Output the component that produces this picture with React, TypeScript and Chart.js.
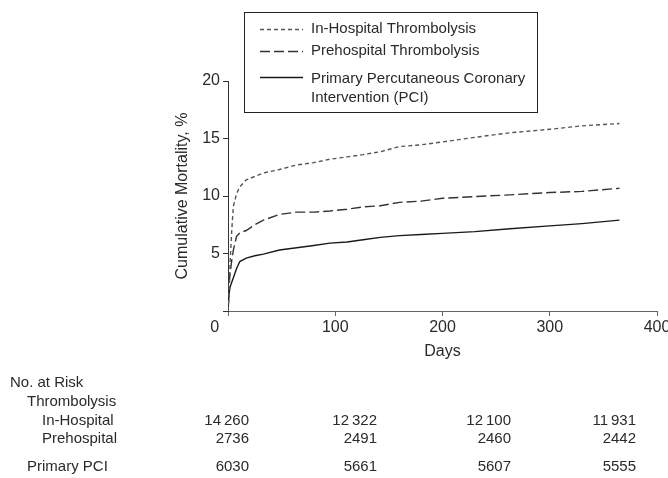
import React, { useEffect, useRef } from 'react';
import { Chart, registerables } from 'chart.js';

Chart.register(...registerables);

// ---- Data ----
const days = [0, 1, 2, 3.5, 5, 8, 11, 17, 25, 33, 48, 64, 80, 95, 111, 126, 142, 160, 180, 200, 230, 263, 300, 330, 365];
const inHospital = [0, 1.5, 4.3, 7.0, 9.1, 10.2, 10.8, 11.4, 11.7, 12.0, 12.3, 12.7, 12.9, 13.2, 13.4, 13.6, 13.85, 14.3, 14.45, 14.7, 15.1, 15.5, 15.8, 16.1, 16.3];
const prehospital = [0, 2.4, 3.3, 4.4, 5.3, 6.5, 6.8, 7.0, 7.5, 7.9, 8.4, 8.6, 8.6, 8.7, 8.85, 9.05, 9.15, 9.45, 9.55, 9.8, 9.95, 10.1, 10.3, 10.4, 10.67];
const primaryPCI = [0, 1.5, 2.1, 2.5, 2.9, 3.7, 4.3, 4.6, 4.8, 4.95, 5.3, 5.5, 5.7, 5.9, 6.0, 6.2, 6.4, 6.55, 6.65, 6.75, 6.9, 7.15, 7.4, 7.6, 7.9];

const seriesLabels = ['In-Hospital Thrombolysis', 'Prehospital Thrombolysis', 'Primary Percutaneous Coronary Intervention (PCI)'];
const legendLines = [['In-Hospital Thrombolysis'], ['Prehospital Thrombolysis'], ['Primary Percutaneous Coronary', 'Intervention (PCI)']];

const xTicks = [0, 100, 200, 300, 400];
const yTicks = [0, 5, 10, 15, 20];

const riskHeader = ['No. at Risk', 'Thrombolysis'];
const riskRowLabels = ['In-Hospital', 'Prehospital', 'Primary PCI'];
const riskInHospital = [14260, 12322, 12100, 11931];
const riskPrehospital = [2736, 2491, 2460, 2442];
const riskPCI = [6030, 5661, 5607, 5555];

// ---- Layout / style constants ----
const W = 668;
const H = 478;
const FONT = "'Liberation Sans', Arial, Helvetica, sans-serif";
const TEXT = '#2a2a2a';

const fmt = (n: number) =>
  n >= 10000 ? `${Math.floor(n / 1000)}\u2009${String(n % 1000).padStart(3, '0')}` : String(n);

const extrasPlugin = {
  id: 'extras',
  afterDraw(chart: any) {
    const ctx = chart.ctx as CanvasRenderingContext2D;
    ctx.save();
    // Legend box
    ctx.strokeStyle = '#222';
    ctx.lineWidth = 1;
    ctx.setLineDash([]);
    ctx.strokeRect(244.5, 12.5, 293, 100);
    const rowsY = [[29], [51], [79, 98]];
    const lineY = [29, 51, 77];
    ctx.font = `15px ${FONT}`;
    ctx.textBaseline = 'middle';
    ctx.textAlign = 'left';
    chart.data.datasets.forEach((ds: any, i: number) => {
      ctx.strokeStyle = ds.borderColor;
      ctx.lineWidth = ds.borderWidth;
      ctx.setLineDash(ds.borderDash || []);
      ctx.beginPath();
      ctx.moveTo(260, lineY[i] + 0.5);
      ctx.lineTo(303, lineY[i] + 0.5);
      ctx.stroke();
      ctx.setLineDash([]);
      ctx.fillStyle = TEXT;
      legendLines[i].forEach((t, k) => ctx.fillText(t, 311, rowsY[i][k]));
    });

    // Number at risk table
    ctx.font = `15px ${FONT}`;
    ctx.fillStyle = TEXT;
    ctx.textAlign = 'left';
    ctx.fillText(riskHeader[0], 10, 383);
    ctx.fillText(riskHeader[1], 27, 402);
    const rowY = [421, 439, 467];
    const rowX = [42, 42, 27];
    const rowsData = [riskInHospital, riskPrehospital, riskPCI];
    const colRight = [249, 377, 511, 636];
    riskRowLabels.forEach((lab, r) => {
      ctx.textAlign = 'left';
      ctx.fillText(lab, rowX[r], rowY[r]);
      ctx.textAlign = 'right';
      rowsData[r].forEach((v, c) => ctx.fillText(fmt(v), colRight[c], rowY[r]));
    });
    ctx.restore();
  },
};

export default function App() {
  const ref = useRef<HTMLCanvasElement | null>(null);
  useEffect(() => {
    if (!ref.current) return;
    const mk = (arr: number[]) => days.map((d, i) => ({ x: d, y: arr[i] }));
    const chart = new Chart(ref.current, {
      type: 'line',
      data: {
        datasets: [
          { label: seriesLabels[0], data: mk(inHospital), borderColor: '#555', borderWidth: 1.4, borderDash: [4, 3], pointRadius: 0, tension: 0, fill: false },
          { label: seriesLabels[1], data: mk(prehospital), borderColor: '#333', borderWidth: 1.4, borderDash: [10, 4], pointRadius: 0, tension: 0, fill: false },
          { label: seriesLabels[2], data: mk(primaryPCI), borderColor: '#1a1a1a', borderWidth: 1.4, pointRadius: 0, tension: 0, fill: false },
        ],
      },
      options: {
        animation: false,
        responsive: false,
        devicePixelRatio: 1,
        layout: { padding: { left: 170, top: 81, right: 11, bottom: 117 } },
        plugins: { legend: { display: false }, tooltip: { enabled: false } },
        font: { family: FONT },
        scales: {
          x: {
            type: 'linear',
            min: xTicks[0],
            max: xTicks[xTicks.length - 1],
            afterBuildTicks: (s: any) => { s.ticks = xTicks.map((v) => ({ value: v })); },
            afterFit: (s: any) => { s.height = 50; s.paddingRight = 0; s.paddingLeft = 0; },
            ticks: {
              font: { family: FONT, size: 16 },
              color: TEXT,
              padding: 2,
              maxRotation: 0,
              autoSkip: false,
              callback: (v: any) => (v === 0 ? '0      ' : String(v)),
            },
            grid: { drawOnChartArea: false, drawTicks: true, tickLength: 5, color: '#666' },
            border: { display: true, color: '#666', width: 1 },
            title: { display: true, text: 'Days', font: { family: FONT, size: 16 }, color: TEXT, padding: { top: 2, bottom: 0 } },
          },
          y: {
            type: 'linear',
            min: yTicks[0],
            max: yTicks[yTicks.length - 1],
            afterBuildTicks: (s: any) => { s.ticks = yTicks.map((v) => ({ value: v })); },
            afterFit: (s: any) => { s.width = 58; },
            ticks: {
              font: { family: FONT, size: 16 },
              color: TEXT,
              padding: 3,
              autoSkip: false,
              callback: (v: any) => (v === 0 ? '' : String(v)),
            },
            grid: { drawOnChartArea: false, drawTicks: true, tickLength: 5, color: '#333' },
            border: { display: true, color: '#333', width: 1 },
            title: { display: true, text: 'Cumulative Mortality, %', font: { family: FONT, size: 16 }, color: TEXT, padding: { top: 3, bottom: 0 } },
          },
        },
      } as any,
      plugins: [extrasPlugin],
    });
    return () => chart.destroy();
  }, []);

  return (
    <div style={{ position: 'fixed', left: 0, top: 0, width: W, height: H, background: '#fff' }}>
      <canvas ref={ref} width={W} height={H} />
    </div>
  );
}
